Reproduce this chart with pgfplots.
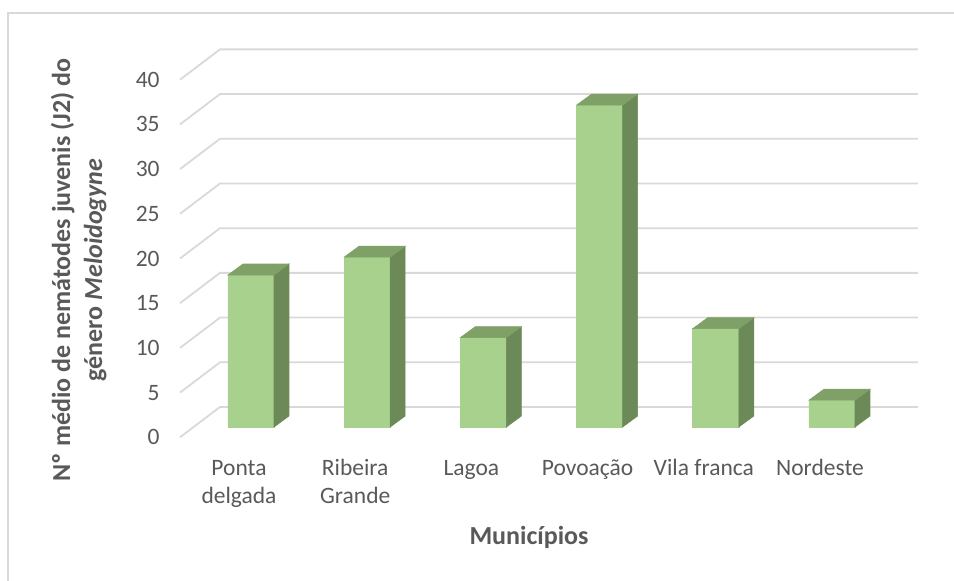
\documentclass[border=0pt]{standalone}
\usepackage{pgfplots}
\usepackage{pgfplotstable}
\pgfplotsset{compat=1.18}
\usepackage{fontspec}
\setmainfont{Carlito}
\definecolor{frontc}{HTML}{A9D18E}
\definecolor{sidec}{HTML}{6C8A58}
\definecolor{topc}{HTML}{7FA066}
\definecolor{gridc}{HTML}{D9D9D9}
\definecolor{txt}{HTML}{595959}

\pgfplotstableread{
x v
0 17
1 19
2 10
3 36
4 11
5 3
}\data
\pgfplotstableread{
dx a b
0.198 0 0
0.198 1 0
0.327 1 1.2304
0.327 0 1.2304
}\sideface
\pgfplotstableread{
dx a b
-0.198 1 0
0.198 1 0
0.327 1 1.2304
-0.069 1 1.2304
}\topface
\pgfplotstableread{
gx gy
-0.611 -1.152
-0.2668 2.237
5.740 2.237
}\gridpath

\begin{document}
\begin{tikzpicture}
\path[use as bounding box] (0,0) rectangle (477pt,-290.5pt);
\draw[gridc, line width=0.75pt] (4pt,-300pt) -- (4pt,-6.5pt) -- (490pt,-6.5pt);
\begin{axis}[
  at={(96.45pt,-213.5pt)}, anchor=south west,
  x=58.1pt, y=4.47pt,
  xmin=-0.5, xmax=5.5, ymin=0, ymax=45,
  clip=false,
  axis line style={draw=none},
  major tick length=0pt,
  xtick={0,1,2,3,4,5},
  xticklabels={{\strut Ponta\\delgada},{\strut Ribeira\\Grande},{\strut Lagoa},{\strut Povoação},{\strut Vila franca},{\strut Nordeste}},
  xticklabel style={font=\fontsize{11.75}{14}\selectfont, text=txt, align=center, anchor=north, inner sep=0pt, xshift=-6pt, yshift=-14.2pt},
  ytick={0,5,...,40},
  yticklabel style={font=\fontsize{11.75}{14}\selectfont, text=txt, anchor=east, inner sep=0pt, xshift=-16.45pt, yshift=-5.15pt},
  /pgf/number format/assume math mode=true,
]
\pgfplotsinvokeforeach{0,5,10,15,20,25,30,35,40}{
  \addplot[gridc, line width=0.9pt] table[x=gx, y expr=\thisrow{gy}+#1] {\gridpath};
}
\addplot[ybar, bar width=0.3959, fill=frontc, draw=frontc, line width=0.3pt] table[x=x, y=v] {\data};
\pgfplotsinvokeforeach{0,1,2,3,4,5}{
  \pgfplotstablegetelem{#1}{v}\of\data
  \let\barv\pgfplotsretval
  \addplot[fill=sidec, draw=sidec, line width=0.3pt] table[x expr=\thisrow{dx}+#1, y expr=\thisrow{a}*\barv+\thisrow{b}] {\sideface} -- cycle;
  \addplot[fill=topc, draw=topc, line width=0.3pt] table[x expr=\thisrow{dx}+#1, y expr=\thisrow{a}*\barv+\thisrow{b}] {\topface} -- cycle;
}
\end{axis}
\node[rotate=90, anchor=base, font=\bfseries\fontsize{13}{16}\selectfont, text=txt] at (35pt,-135pt) {Nº médio de nemátodes juvenis (J2) do};
\node[rotate=90, anchor=base, font=\bfseries\fontsize{13}{16}\selectfont, text=txt] at (51pt,-135pt) {género \textit{Meloidogyne}};
\node[anchor=base, font=\bfseries\fontsize{13}{16}\selectfont, text=txt] at (264.5pt,-272.5pt) {Municípios};
\end{tikzpicture}
\end{document}
